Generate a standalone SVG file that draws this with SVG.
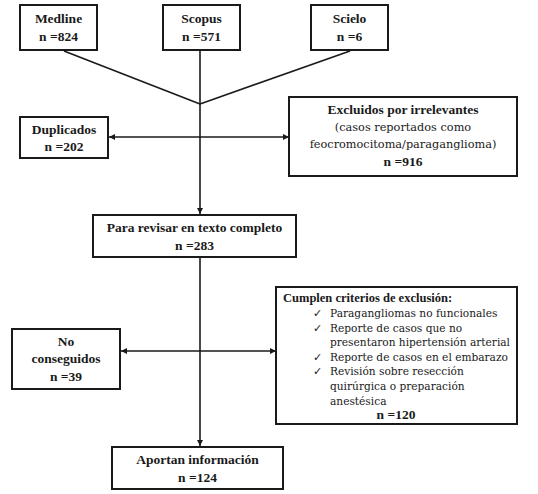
<svg xmlns="http://www.w3.org/2000/svg" width="538" height="494" viewBox="0 0 538 494">
<defs>
<marker id="ah" viewBox="0 0 10 10" refX="10" refY="5" markerWidth="6" markerHeight="6" orient="auto-start-reverse" markerUnits="userSpaceOnUse">
<path d="M0,0 L10,5 L0,10 z" fill="#1a1a1a"/>
</marker>
<style>
.box{fill:#fff;stroke:#1a1a1a;stroke-width:2}
.ln{stroke:#1a1a1a;stroke-width:1.6;fill:none}
.b{font-family:"Liberation Serif",serif;font-weight:bold;font-size:13.5px;fill:#1a1a1a;text-anchor:middle}
.r{font-family:"DejaVu Serif",serif;font-size:11.3px;fill:#1a1a1a;text-anchor:middle}
.rl{font-family:"DejaVu Serif",serif;font-size:10.6px;fill:#1a1a1a}
</style>
</defs>
<rect width="538" height="494" fill="#fff"/>
<g id="connectors">
<line class="ln" x1="64" y1="51" x2="200" y2="104"/>
<line class="ln" x1="350" y1="51" x2="200" y2="104"/>
<line class="ln" x1="200" y1="51" x2="200" y2="214" marker-end="url(#ah)"/>
<line class="ln" x1="109" y1="137" x2="289" y2="137" marker-start="url(#ah)" marker-end="url(#ah)"/>
<line class="ln" x1="200" y1="257" x2="200" y2="446" marker-end="url(#ah)"/>
<line class="ln" x1="121" y1="351" x2="276" y2="351" marker-start="url(#ah)" marker-end="url(#ah)"/>
</g>
<g id="medline">
<rect class="box" x="20" y="5" width="77" height="45"/>
<text class="b" x="58.5" y="23">Medline</text>
<text class="b" x="58.5" y="41">n =824</text>
</g>
<g id="scopus">
<rect class="box" x="163" y="5" width="77" height="45"/>
<text class="b" x="201.5" y="23">Scopus</text>
<text class="b" x="201.5" y="41">n =571</text>
</g>
<g id="scielo">
<rect class="box" x="311" y="5" width="77" height="45"/>
<text class="b" x="349.5" y="23">Scielo</text>
<text class="b" x="349.5" y="41">n =6</text>
</g>
<g id="duplicados">
<rect class="box" x="20" y="117" width="88" height="41"/>
<text class="b" x="64" y="134">Duplicados</text>
<text class="b" x="64" y="151">n =202</text>
</g>
<g id="excluidos">
<rect class="box" x="289" y="97" width="228" height="79"/>
<text class="b" x="403" y="114">Excluidos por irrelevantes</text>
<text class="r" x="403" y="131">(casos reportados como</text>
<text class="r" x="403" y="148">feocromocitoma/paraganglioma)</text>
<text class="b" x="403" y="166">n =916</text>
</g>
<g id="revisar">
<rect class="box" x="93" y="215" width="203" height="42"/>
<text class="b" x="194.5" y="232">Para revisar en texto completo</text>
<text class="b" x="194.5" y="250">n =283</text>
</g>
<g id="cumplen">
<rect class="box" x="276" y="287" width="241" height="137"/>
<text class="b" x="283" y="302" style="text-anchor:start;font-size:12.5px">Cumplen criterios de exclusión:</text>
<text class="rl" x="313" y="317">✓</text><text class="rl" x="330" y="317">Paragangliomas no funcionales</text>
<text class="rl" x="313" y="332">✓</text><text class="rl" x="330" y="332">Reporte de casos que no</text>
<text class="rl" x="330" y="346">presentaron hipertensión arterial</text>
<text class="rl" x="313" y="361">✓</text><text class="rl" x="330" y="361">Reporte de casos en el embarazo</text>
<text class="rl" x="313" y="375">✓</text><text class="rl" x="330" y="375">Revisión sobre resección</text>
<text class="rl" x="330" y="390">quirúrgica o preparación</text>
<text class="rl" x="330" y="405">anestésica</text>
<text class="b" x="396" y="419">n =120</text>
</g>
<g id="noconseguidos">
<rect class="box" x="12" y="329" width="108" height="60"/>
<text class="b" x="66" y="346">No</text>
<text class="b" x="66" y="363">conseguidos</text>
<text class="b" x="66" y="381">n =39</text>
</g>
<g id="aportan">
<rect class="box" x="112" y="447" width="171" height="42"/>
<text class="b" x="197.5" y="464">Aportan información</text>
<text class="b" x="197.5" y="482">n =124</text>
</g>
</svg>
